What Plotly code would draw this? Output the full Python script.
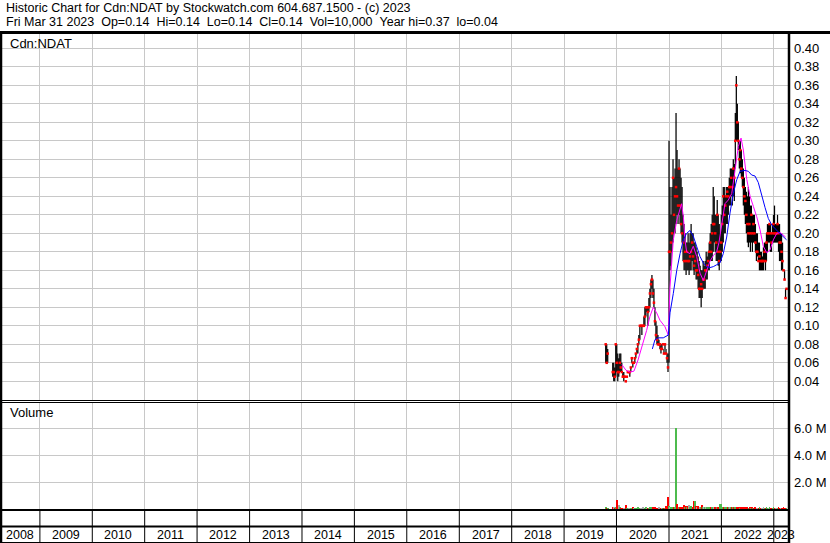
import plotly.graph_objects as go
import pandas as pd

# ---------------- data ----------------
TITLE_1 = "Historic Chart for Cdn:NDAT by Stockwatch.com 604.687.1500 - (c) 2023"
TITLE_2 = "Fri Mar 31 2023  Op=0.14  Hi=0.14  Lo=0.14  Cl=0.14  Vol=10,000  Year hi=0.37  lo=0.04"
SYMBOL = "Cdn:NDAT"
VOLUME_TITLE = "Volume"

FIRST_WEEK = "2019-10-18"   # weekly bars, one per week from this date

HIGH = [0.08, 0.08, 0.075, None, None, None, None, 0.06, 0.06, 0.055,
        0.08, 0.08, 0.07, 0.065, 0.07, 0.07, 0.06, 0.05, 0.05, 0.045,
        0.04, 0.045, 0.05, 0.05, 0.05, 0.055, 0.065, 0.06, 0.06, 0.065,
        0.07, 0.075, 0.08, 0.09, 0.10, 0.10, 0.10, 0.10, 0.11, 0.12,
        0.12, 0.12, 0.12, 0.13, 0.14, 0.15, 0.155, 0.15, 0.14, 0.12,
        0.105, 0.10, 0.09, 0.085, 0.08, 0.08, 0.08, 0.08, 0.075, 0.08,
        0.075, 0.07, 0.07, 0.30, 0.25, 0.22, 0.25, 0.28, 0.26, 0.27,
        0.33, 0.29, 0.27, 0.28, 0.27, 0.26, 0.25, 0.22, 0.21, 0.20,
        0.19, 0.19, 0.20, 0.19, 0.20, 0.21, 0.20, 0.20, 0.19, 0.19,
        0.185, 0.18, 0.175, 0.17, 0.165, 0.16, 0.16, 0.17, 0.165, 0.17,
        0.18, 0.175, 0.18, 0.19, 0.20, 0.21, 0.22, 0.25, 0.24, 0.22,
        0.22, 0.236, 0.22, 0.21, 0.20, 0.22, 0.23, 0.25, 0.25, 0.24,
        0.25, 0.25, 0.25, 0.26, 0.27, 0.27, 0.27, 0.28, 0.275, 0.33,
        0.37, 0.34, 0.32, 0.30, 0.30, 0.29, 0.28, 0.27, 0.26, 0.25,
        0.245, 0.24, 0.25, 0.24, 0.23, 0.23, 0.22, 0.22, 0.22, 0.21,
        0.20, 0.20, 0.19, 0.19, 0.18, 0.18, 0.175, 0.185, 0.19, 0.19,
        0.20, 0.21, 0.21, 0.21, 0.21, 0.20, 0.21, 0.22, 0.23, 0.21,
        0.21, 0.22, 0.21, 0.21, 0.20, 0.20, 0.19, 0.16, 0.16, 0.14,
        0.14]

LOW = [0.06, 0.06, 0.06, None, None, None, None, 0.045, 0.04, 0.04,
       0.045, 0.05, 0.04, 0.045, 0.05, 0.05, 0.05, 0.045, 0.04, 0.045,
       0.04, 0.045, 0.05, 0.05, 0.045, 0.05, 0.06, 0.055, 0.06, 0.06,
       0.065, 0.07, 0.07, 0.08, 0.085, 0.10, 0.09, 0.10, 0.10, 0.10,
       0.11, 0.115, 0.10, 0.115, 0.12, 0.13, 0.14, 0.13, 0.12, 0.10,
       0.085, 0.08, 0.08, 0.08, 0.075, 0.07, 0.075, 0.08, 0.07, 0.075,
       0.07, 0.06, 0.05, 0.06, 0.16, 0.165, 0.18, 0.19, 0.20, 0.20,
       0.21, 0.22, 0.21, 0.22, 0.21, 0.20, 0.19, 0.17, 0.16, 0.16,
       0.155, 0.16, 0.16, 0.155, 0.16, 0.16, 0.17, 0.16, 0.155, 0.16,
       0.15, 0.15, 0.14, 0.13, 0.13, 0.12, 0.13, 0.14, 0.14, 0.14,
       0.15, 0.15, 0.16, 0.16, 0.17, 0.17, 0.17, 0.18, 0.19, 0.18,
       0.17, 0.17, 0.165, 0.16, 0.17, 0.17, 0.18, 0.19, 0.20, 0.20,
       0.21, 0.21, 0.22, 0.23, 0.23, 0.24, 0.23, 0.24, 0.235, 0.27,
       0.30, 0.30, 0.29, 0.27, 0.265, 0.26, 0.25, 0.23, 0.22, 0.21,
       0.20, 0.19, 0.185, 0.19, 0.18, 0.19, 0.18, 0.19, 0.19, 0.18,
       0.17, 0.175, 0.17, 0.16, 0.16, 0.16, 0.16, 0.16, 0.17, 0.16,
       0.17, 0.18, 0.19, 0.19, 0.18, 0.18, 0.19, 0.19, 0.19, 0.19,
       0.19, 0.19, 0.18, 0.17, 0.17, 0.16, 0.16, 0.16, 0.15, 0.13,
       0.14]

CLOSE = [0.08, 0.06, 0.07, None, None, None, None, 0.05, 0.05, 0.045,
         0.08, 0.06, 0.05, 0.05, 0.06, 0.055, 0.05, 0.045, 0.045, 0.045,
         0.04, 0.045, 0.05, 0.05, 0.05, 0.055, 0.065, 0.06, 0.06, 0.065,
         0.07, 0.075, 0.08, 0.085, 0.10, 0.10, 0.10, 0.10, 0.10, 0.11,
         0.12, 0.12, 0.115, 0.12, 0.135, 0.145, 0.15, 0.135, 0.125, 0.105,
         0.09, 0.085, 0.08, 0.08, 0.08, 0.075, 0.075, 0.08, 0.07, 0.08,
         0.07, 0.065, 0.055, 0.18, 0.18, 0.19, 0.20, 0.26, 0.22, 0.24,
         0.25, 0.24, 0.23, 0.27, 0.23, 0.21, 0.20, 0.19, 0.17, 0.18,
         0.17, 0.18, 0.17, 0.17, 0.175, 0.18, 0.19, 0.175, 0.165, 0.17,
         0.16, 0.16, 0.155, 0.14, 0.14, 0.145, 0.14, 0.15, 0.15, 0.16,
         0.16, 0.165, 0.17, 0.18, 0.19, 0.18, 0.20, 0.21, 0.21, 0.20,
         0.19, 0.22, 0.18, 0.17, 0.18, 0.19, 0.21, 0.24, 0.22, 0.23,
         0.24, 0.245, 0.24, 0.25, 0.25, 0.26, 0.25, 0.27, 0.26, 0.30,
         0.36, 0.32, 0.30, 0.28, 0.29, 0.27, 0.26, 0.25, 0.24, 0.235,
         0.22, 0.21, 0.20, 0.21, 0.20, 0.22, 0.20, 0.21, 0.20, 0.19,
         0.18, 0.18, 0.17, 0.175, 0.17, 0.17, 0.17, 0.17, 0.18, 0.17,
         0.19, 0.20, 0.20, 0.21, 0.20, 0.19, 0.20, 0.21, 0.20, 0.20,
         0.20, 0.21, 0.20, 0.19, 0.19, 0.18, 0.17, 0.16, 0.15, 0.13,
         0.14]

VOLUME_M = [0.17, 0.05, 0.05, 0, 0, 0, 0, 0.12, 0.08, 0.05,
            0.10, 0.67, 0.20, 0.30, 0.10, 0.05, 0.05, 0.05, 0.05, 0.03,
            0.30, 0.05, 0.05, 0.03, 0.05, 0.05, 0.05, 0.10, 0.03, 0.05,
            0.05, 0.05, 0.08, 0.05, 0.05, 0.03, 0.05, 0.10, 0.05, 0.05,
            0.08, 0.05, 0.05, 0.05, 0.08, 0.10, 0.08, 0.10, 0.05, 0.08,
            0.05, 0.05, 0.05, 0.10, 0.05, 0.05, 0.05, 0.03, 0.05, 0.05,
            0.25, 0.10, 0.92, 0.20, 0.10, 0.10, 0.10, 0.15, 0.10, 0.10,
            6.00, 0.37, 0.10, 0.15, 0.10, 0.10, 0.12, 0.15, 0.30, 0.15,
            0.20, 0.10, 0.20, 0.30, 0.15, 0.20, 0.10, 0.15, 0.60, 0.60,
            0.20, 0.15, 0.25, 0.10, 0.10, 0.10, 0.30, 0.10, 0.10, 0.10,
            0.10, 0.08, 0.15, 0.10, 0.15, 0.10, 0.10, 0.10, 0.15, 0.10,
            0.10, 0.15, 0.10, 0.10, 0.37, 0.37, 0.15, 0.15, 0.10, 0.15,
            0.10, 0.10, 0.10, 0.10, 0.10, 0.10, 0.08, 0.10, 0.08, 0.10,
            0.10, 0.08, 0.08, 0.10, 0.05, 0.08, 0.05, 0.08, 0.05, 0.08,
            0.05, 0.08, 0.05, 0.05, 0.08, 0.05, 0.10, 0.05, 0.05, 0.08,
            0.05, 0.05, 0.05, 0.08, 0.05, 0.05, 0.05, 0.08, 0.05, 0.05,
            0.10, 0.05, 0.05, 0.08, 0.05, 0.05, 0.05, 0.08, 0.05, 0.05,
            0.05, 0.05, 0.08, 0.05, 0.05, 0.05, 0.05, 0.08, 0.05, 0.05,
            0.01]

MA_FAST_DATES = ["2020-02-08", "2020-03-07", "2020-04-04", "2020-05-02", "2020-05-30",
                 "2020-07-04", "2020-07-29", "2020-08-21", "2020-09-13", "2020-10-07",
                 "2020-10-30", "2020-12-04", "2020-12-27", "2021-01-08", "2021-01-20",
                 "2021-01-31", "2021-02-24", "2021-03-19", "2021-03-30", "2021-04-11",
                 "2021-04-22", "2021-05-04", "2021-05-27", "2021-06-19", "2021-07-13",
                 "2021-08-05", "2021-08-28", "2021-09-21", "2021-10-14", "2021-11-06",
                 "2021-11-29", "2021-12-15", "2022-01-03", "2022-01-26", "2022-02-18",
                 "2022-03-14", "2022-04-06", "2022-04-29", "2022-05-18", "2022-06-03",
                 "2022-06-27", "2022-07-20", "2022-08-12", "2022-09-04", "2022-09-27",
                 "2022-10-20", "2022-11-13", "2022-12-06", "2022-12-29", "2023-01-22",
                 "2023-02-14", "2023-03-09", "2023-03-24"]
MA_FAST = [0.058, 0.052, 0.050, 0.051, 0.063,
           0.081, 0.095, 0.110, 0.120, 0.114,
           0.106, 0.099, 0.090, 0.142, 0.171,
           0.193, 0.214, 0.225, 0.232, 0.218,
           0.193, 0.180, 0.178, 0.186, 0.175,
           0.157, 0.149, 0.160, 0.170, 0.176,
           0.180, 0.190, 0.210, 0.232, 0.236,
           0.243, 0.268, 0.294, 0.303, 0.290,
           0.258, 0.240, 0.229, 0.218, 0.204,
           0.186, 0.179, 0.182, 0.193, 0.200,
           0.201, 0.198, 0.196]

MA_SLOW_DATES = ["2020-09-07", "2020-09-25", "2020-10-18", "2020-11-22", "2020-12-27",
                 "2021-01-08", "2021-01-31", "2021-02-24", "2021-03-19", "2021-04-11",
                 "2021-05-04", "2021-05-27", "2021-06-19", "2021-07-13", "2021-08-05",
                 "2021-08-28", "2021-09-21", "2021-10-14", "2021-11-06", "2021-11-29",
                 "2021-12-22", "2022-01-14", "2022-02-07", "2022-03-02", "2022-03-25",
                 "2022-04-18", "2022-05-11", "2022-06-15", "2022-07-08", "2022-07-31",
                 "2022-08-23", "2022-09-15", "2022-10-09", "2022-11-01", "2022-11-24",
                 "2022-12-18", "2023-01-10", "2023-02-02", "2023-02-25", "2023-03-31"]
MA_SLOW = [0.075, 0.085, 0.087, 0.087, 0.090,
           0.114, 0.135, 0.160, 0.178, 0.193,
           0.200, 0.203, 0.197, 0.186, 0.175,
           0.168, 0.164, 0.163, 0.164, 0.166,
           0.168, 0.178, 0.196, 0.222, 0.243,
           0.258, 0.267, 0.268, 0.267, 0.263,
           0.262, 0.255, 0.240, 0.228, 0.216,
           0.209, 0.205, 0.202, 0.198, 0.193]

PRICE_TICKS = [0.04, 0.06, 0.08, 0.10, 0.12, 0.14, 0.16, 0.18, 0.20,
               0.22, 0.24, 0.26, 0.28, 0.30, 0.32, 0.34, 0.36, 0.38, 0.40]
VOLUME_TICKS = [2e6, 4e6, 6e6]
VOLUME_TICK_LABELS = ["2.0 M", "4.0 M", "6.0 M"]
YEARS = list(range(2008, 2024))

# ---------------- layout constants ----------------
W, H = 830, 543
X_START, X_END = pd.Timestamp("2008-03-29"), pd.Timestamp("2023-04-17")
PRICE_RANGE = [0.0198, 0.4155]
VOLUME_RANGE = [0, 7.96e6]
FONT = "Liberation Sans, Arial, sans-serif"
GRID = "#c8c8c8"
GREEN, RED, GREY = "#4dbb4d", "#ff0000", "#a8a8a8"


def px(x):
    return x / W


def py(y):
    return 1 - y / H


dates = pd.date_range(FIRST_WEEK, periods=len(CLOSE), freq="7D")

seg_x, seg_y = [], []
for d, h, l in zip(dates, HIGH, LOW):
    if h is None:
        continue
    seg_x += [d, d, None]
    seg_y += [l, h, None]

vol_colors = []
prev = None
for c in CLOSE:
    if c is None or prev is None or c == prev:
        vol_colors.append(GREY if (c is not None and prev is not None) else GREEN)
    elif c > prev:
        vol_colors.append(GREEN)
    else:
        vol_colors.append(RED)
    if c is not None:
        prev = c

fig = go.Figure()
fig.add_trace(go.Scatter(x=seg_x, y=seg_y, mode="lines",
                         line=dict(color="black", width=1.25),
                         hoverinfo="skip", xaxis="x", yaxis="y"))
fig.add_trace(go.Scatter(x=dates, y=CLOSE, mode="markers",
                         marker=dict(color=RED, size=2.5, symbol="square", line=dict(width=0)),
                         xaxis="x", yaxis="y"))
fig.add_trace(go.Scatter(x=pd.to_datetime(MA_FAST_DATES), y=MA_FAST, mode="lines",
                         line=dict(color="#ff00ff", width=1), xaxis="x", yaxis="y"))
fig.add_trace(go.Scatter(x=pd.to_datetime(MA_SLOW_DATES), y=MA_SLOW, mode="lines",
                         line=dict(color="#0000ff", width=1), xaxis="x", yaxis="y"))
fig.add_trace(go.Bar(x=dates, y=[v * 1e6 for v in VOLUME_M], marker_color=vol_colors,
                     marker_line_width=0, width=6 * 86400000, xaxis="x2", yaxis="y2"))

year_lines = [pd.Timestamp(f"{y}-01-01") for y in YEARS[1:]]
XDOM = [0, px(789)]

fig.update_layout(
    width=W, height=H, margin=dict(l=0, r=0, t=0, b=0),
    paper_bgcolor="white", plot_bgcolor="white", showlegend=False,
    font=dict(family=FONT, size=12, color="black"),
    bargap=0, hovermode=False,
    xaxis=dict(domain=XDOM, range=[X_START, X_END], anchor="y", tickvals=year_lines,
               showticklabels=False, showgrid=True, gridcolor=GRID, gridwidth=1,
               zeroline=False, showline=False, ticks=""),
    yaxis=dict(domain=[py(400), py(34)], range=PRICE_RANGE, side="right", anchor="x",
               tickvals=PRICE_TICKS, ticktext=[f"{t:.2f}" for t in PRICE_TICKS],
               showgrid=True, gridcolor=GRID, gridwidth=1, zeroline=False,
               showline=False, ticks="", ticklabelstandoff=4,
               tickfont=dict(size=13, family=FONT, color="black")),
    xaxis2=dict(domain=XDOM, range=[X_START, X_END], anchor="y2", matches="x",
                tickvals=year_lines, showticklabels=False, showgrid=True, gridcolor=GRID,
                gridwidth=1, zeroline=False, showline=False, ticks=""),
    yaxis2=dict(domain=[py(509), py(402)], range=VOLUME_RANGE, side="right", anchor="x2",
                tickvals=VOLUME_TICKS, ticktext=VOLUME_TICK_LABELS, showgrid=True,
                gridcolor=GRID, gridwidth=1, zeroline=False, showline=False, ticks="",
                ticklabelstandoff=4,
                tickfont=dict(size=13, family=FONT, color="black")),
)

shapes = []


def hline(y, x0, x1, w):
    shapes.append(dict(type="line", xref="paper", yref="paper", x0=px(x0), x1=px(x1),
                       y0=py(y), y1=py(y), line=dict(color="black", width=w)))


def vline(x, y0, y1, w):
    shapes.append(dict(type="line", xref="paper", yref="paper", x0=px(x), x1=px(x),
                       y0=py(y0), y1=py(y1), line=dict(color="black", width=w)))


hline(32.5, 0, 830, 3)
hline(400.5, 0, 789, 1)
hline(402.5, 0, 789, 1)
hline(510, 0, 789, 2)
hline(526.5, 0, 789, 2)
hline(542.5, 0, 789, 1)
vline(1, 32, 543, 2.5)
vline(789, 32, 543, 2.5)
for d in year_lines:
    shapes.append(dict(type="line", xref="x", yref="paper", x0=d, x1=d,
                       y0=py(543), y1=py(510), line=dict(color="black", width=1)))
fig.update_layout(shapes=shapes)

ann = []
ann.append(dict(text=TITLE_1, x=px(4), y=py(8), xref="paper", yref="paper",
                xanchor="left", yanchor="middle", showarrow=False,
                font=dict(size=12.5, family=FONT, color="black")))
ann.append(dict(text=TITLE_2.replace("  ", " \u00a0"), x=px(4), y=py(22), xref="paper",
                yref="paper", xanchor="left", yanchor="middle", showarrow=False,
                font=dict(size=12.5, family=FONT, color="black")))
ann.append(dict(text=SYMBOL, x=px(8), y=py(43), xref="paper", yref="paper",
                xanchor="left", yanchor="middle", showarrow=False,
                font=dict(size=13, family=FONT, color="black")))
ann.append(dict(text=VOLUME_TITLE, x=px(8), y=py(413), xref="paper", yref="paper",
                xanchor="left", yanchor="middle", showarrow=False,
                font=dict(size=13, family=FONT, color="black")))
for yr in YEARS:
    s = max(pd.Timestamp(f"{yr}-01-01"), X_START)
    e = min(pd.Timestamp(f"{yr + 1}-01-01"), X_END)
    mid = s + (e - s) / 2
    ann.append(dict(text=str(yr), x=mid, y=py(535), xref="x", yref="paper",
                    xanchor="center", yanchor="middle", showarrow=False,
                    font=dict(size=12.5, family=FONT, color="black")))
fig.update_layout(annotations=ann)

fig.write_html("out.html", config={"displayModeBar": False},
               post_script="document.body.style.margin='0';")
